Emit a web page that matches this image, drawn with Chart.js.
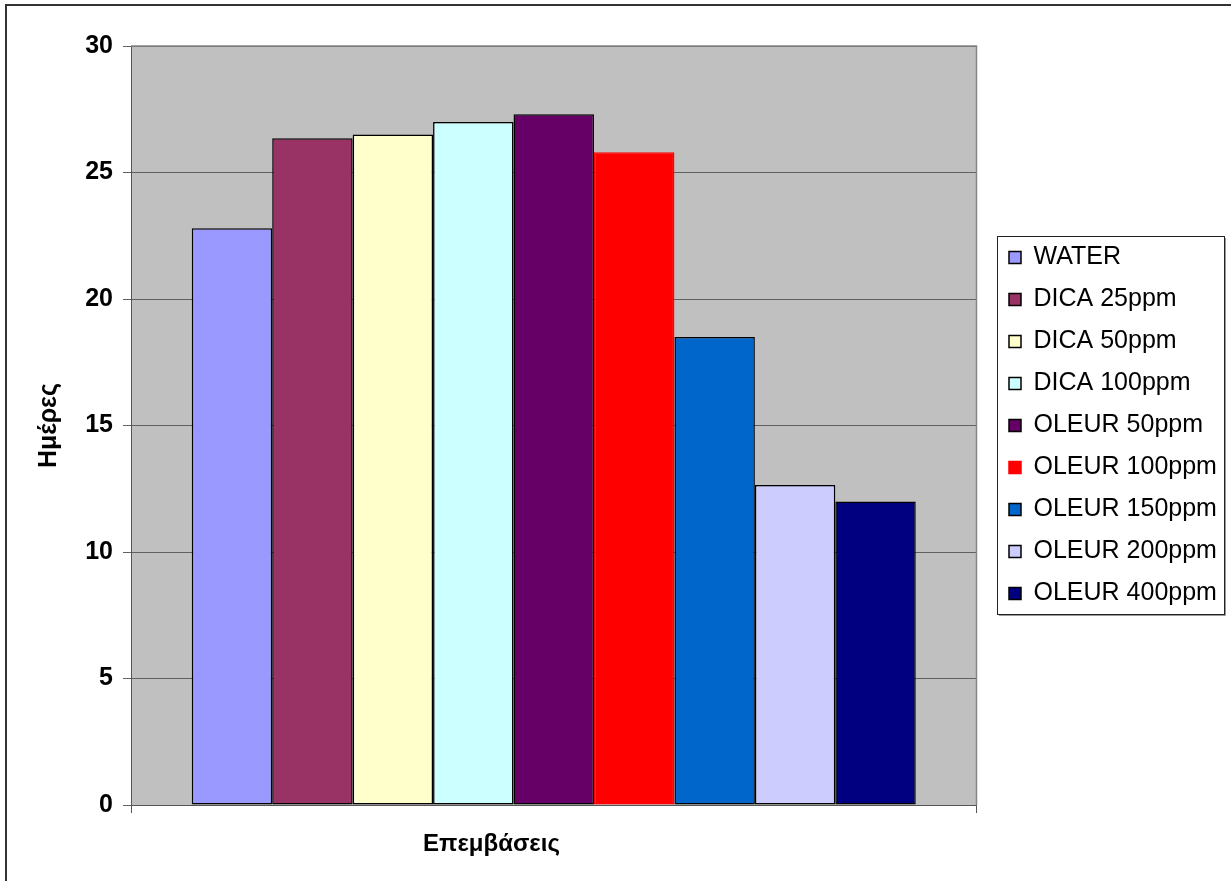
<!DOCTYPE html>
<html>
<head>
<meta charset="utf-8">
<title>Ημέρες ανά επέμβαση</title>
<script src="https://cdn.jsdelivr.net/npm/chart.js@4/dist/chart.umd.min.js"></script>
<style>
  html, body { margin: 0; padding: 0; background: #fff; }
  canvas { display: block; }
</style>
</head>
<body>
<canvas id="chart" width="1231" height="881"></canvas>
<script>
// Treatments (one bar each) and the number of days measured for them
const categories = [''];
const seriesNames = [
  'WATER', 'DICA 25ppm', 'DICA 50ppm', 'DICA 100ppm',
  'OLEUR 50ppm', 'OLEUR 100ppm', 'OLEUR 150ppm', 'OLEUR 200ppm', 'OLEUR 400ppm'
];
const seriesValues = [22.8, 26.35, 26.5, 27.0, 27.3, 25.8, 18.5, 12.65, 12.0];
const yAxisMin = 0;
const yAxisMax = 30;
const yAxisStep = 5;
const xAxisTitle = 'Επεμβάσεις';
const yAxisTitle = 'Ημέρες';

// Classic spreadsheet palette
const seriesFill = ['#9999FF', '#993366', '#FFFFCC', '#CCFFFF', '#660066', '#FF0000', '#0066CC', '#CCCCFF', '#000080'];
const seriesEdge = ['#000', '#000', '#000', '#000', '#000', '#FF0000', '#000', '#000', '#000'];

const FONT = "'Liberation Sans', Arial, sans-serif";
Chart.defaults.font.family = FONT;
Chart.defaults.color = '#000';

// Page frame, grey plot area and its border
const plotFrame = {
  id: 'plotFrame',
  beforeDraw(chart) {
    const { ctx, width, height, chartArea: a } = chart;
    ctx.save();
    ctx.fillStyle = '#fff';
    ctx.fillRect(0, 0, width, height);
    ctx.strokeStyle = '#333';
    ctx.lineWidth = 2;
    ctx.strokeRect(6, 5, width, height);
    ctx.fillStyle = '#C0C0C0';
    ctx.fillRect(a.left, a.top, a.right - a.left, a.bottom - a.top);
    ctx.restore();
  },
  beforeDatasetsDraw(chart) {
    const { ctx, chartArea: a } = chart;
    ctx.save();
    ctx.strokeStyle = '#858585';
    ctx.lineWidth = 1.5;
    ctx.beginPath();
    ctx.moveTo(a.left, a.top);
    ctx.lineTo(a.right, a.top);
    ctx.lineTo(a.right, a.bottom);
    ctx.stroke();
    ctx.restore();
  },
  afterDraw(chart) {
    const { ctx, chartArea: a } = chart;
    ctx.save();
    ctx.font = 'bold 24px ' + FONT;
    ctx.fillStyle = '#000';
    ctx.textAlign = 'center';
    ctx.textBaseline = 'alphabetic';
    ctx.fillText(xAxisTitle, a.left + 360.5, a.bottom + 46);
    ctx.restore();
  }
};

// Legend sits a little away from the plot and gets a boxed outline
const legendFrame = {
  id: 'legendFrame',
  afterLayout(chart) {
    const lg = chart.legend;
    lg.left = chart.chartArea.right + 15.5;
    lg.right = chart.width;
    lg.width = lg.right - lg.left;
  },
  afterDraw(chart) {
    const hb = chart.legend.legendHitBoxes;
    if (!hb || !hb.length) return;
    const first = hb[0], last = hb[hb.length - 1];
    const x0 = first.left - 12, y0 = first.top - 9;
    const x1 = x0 + 227, y1 = last.top + last.height + 8;
    const ctx = chart.ctx;
    ctx.save();
    ctx.strokeStyle = '#999';
    ctx.lineWidth = 1;
    ctx.beginPath();
    ctx.moveTo(x0 + 2, y1 + 1.5);
    ctx.lineTo(x1 + 1.5, y1 + 1.5);
    ctx.lineTo(x1 + 1.5, y0 + 2);
    ctx.stroke();
    ctx.strokeStyle = '#222';
    ctx.strokeRect(x0 + 0.5, y0 + 0.5, x1 - x0, y1 - y0);
    ctx.restore();
  }
};

const datasets = seriesNames.map((name, i) => ({
  label: name,
  data: [seriesValues[i]],
  backgroundColor: seriesFill[i],
  borderColor: seriesEdge[i],
  borderWidth: 1.5,
  borderSkipped: false
}));

new Chart(document.getElementById('chart'), {
  type: 'bar',
  data: { labels: categories, datasets },
  options: {
    responsive: false,
    animation: false,
    devicePixelRatio: 1,
    layout: { padding: { top: 46, left: 0, bottom: 0, right: 104.5 } },
    datasets: { bar: { categoryPercentage: 0.8563, barPercentage: 1 } },
    plugins: {
      tooltip: { enabled: false },
      legend: {
        position: 'right',
        fullSize: false,
        maxWidth: 150,
        labels: {
          font: { size: 25 },
          color: '#000',
          boxWidth: 12,
          boxHeight: 12,
          padding: 17
        }
      }
    },
    scales: {
      x: {
        type: 'category',
        offset: true,
        grid: { display: true, offset: true, drawOnChartArea: false, drawTicks: true, tickLength: 8, color: '#555' },
        border: { display: true, color: '#555', width: 1 },
        ticks: { display: false },
        afterFit(scale) { scale.height = 76; }
      },
      y: {
        min: yAxisMin,
        max: yAxisMax,
        ticks: {
          stepSize: yAxisStep,
          padding: 10,
          font: { size: 25, weight: 'bold' },
          color: '#000'
        },
        grid: { color: '#606060', lineWidth: 1, tickLength: 8, tickColor: '#606060' },
        border: { display: true, color: '#555', width: 1 },
        title: {
          display: true,
          text: yAxisTitle,
          font: { size: 25, weight: 'bold' },
          color: '#000',
          padding: { top: 34, bottom: 0 }
        },
        afterFit(scale) { scale.width = 131; }
      }
    }
  },
  plugins: [plotFrame, legendFrame]
});
</script>
</body>
</html>
